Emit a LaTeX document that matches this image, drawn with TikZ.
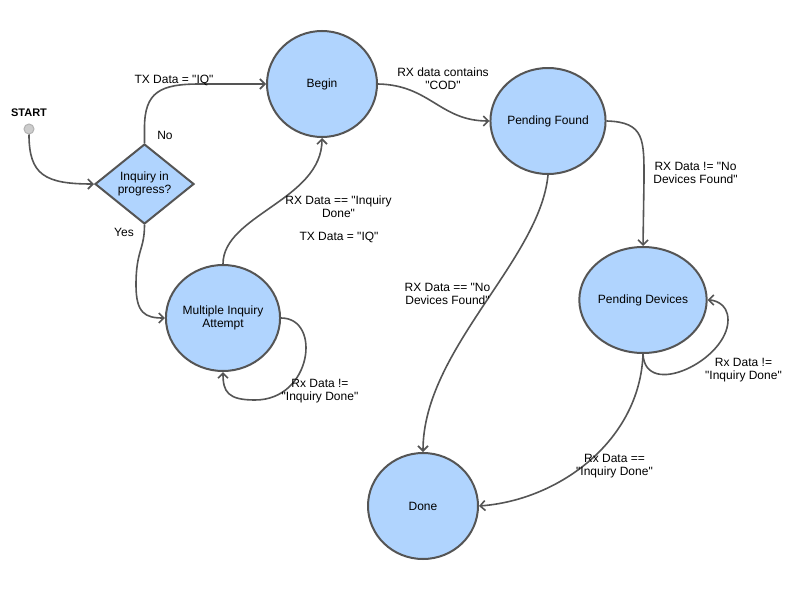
\documentclass[tikz,border=0pt]{standalone}
\usepackage{fontspec}
\setmainfont{Liberation Sans}[Ligatures=TeXOff]
\usetikzlibrary{shapes.geometric,arrows.meta}
\definecolor{fillc}{HTML}{B0D4FE}
\definecolor{strokec}{HTML}{555555}
\definecolor{edgec}{HTML}{555555}
\begin{document}
\begin{tikzpicture}[x=1pt,y=-1pt,
  state/.style={ellipse,draw=strokec,line width=2pt,fill=fillc,minimum width=110pt,minimum height=106pt,inner sep=0pt,align=center,font=\fontsize{12}{13}\selectfont},
  decision/.style={diamond,draw=strokec,line width=2pt,fill=fillc,minimum width=99pt,minimum height=80pt,inner sep=0pt,aspect=1.24,align=center,font=\fontsize{12}{13}\selectfont},
  lbl/.style={align=center,inner sep=0pt,font=\fontsize{12}{13}\selectfont},
  edge/.style={draw=edgec,line width=1.6pt,-{Straight Barb[length=5pt,width=10pt]}}]
\useasboundingbox (0,0) rectangle (806,589);
\fill[white] (0,0) rectangle (806,589);

% nodes
\node[circle,fill=black!20,draw=black!30,line width=1pt,minimum size=10pt,inner sep=0pt] (start) at (29,129) {};
\node[lbl,font=\bfseries\fontsize{11}{13}\selectfont] (startlbl) at (29,113) {START};
\node[decision] (dec) at (144.5,184) {Inquiry in\\progress?};
\node[state] (begin) at (322,84) {Begin};
\node[state] (pf) at (548,121) {Pending Found};
\node[state] (pd) at (643,300) {Pending Devices};
\node[state] (done) at (423,506) {Done};
\node[state] (mia) at (223,318) {Multiple Inquiry\\Attempt};

% edges
\draw[edge] (start.south) .. controls (29,175) and (45,184) .. (dec.west);
\draw[edge] (dec.north) -- (144.5,128) .. controls (144.5,92) and (160,84) .. (200,84) -- (begin.west);
\draw[edge] (dec.south) .. controls (144.5,250) and (136,250) .. (136,285) .. controls (136,313) and (145,318) .. (mia.west);
\draw[edge] (mia.north) .. controls (223,215) and (322,200) .. (begin.south);
\draw[edge] (mia.east) .. controls (322,318) and (312,400) .. (255,400) .. controls (228,400) and (223,392) .. (mia.south);
\draw[edge] (begin.east) .. controls (430,85) and (440,121) .. (pf.west);
\draw[edge] (pf.east) .. controls (645,122) and (644,140) .. (644,180) -- (pd.north);
\draw[edge] (pf.south) .. controls (540,260) and (423,350) .. (done.north);
\draw[edge] (pd.south) .. controls (645,400) and (728,360) .. (728,320) .. controls (728,302) and (712,300) .. (pd.east);
\draw[edge] (pd.south) .. controls (640,440) and (560,500) .. (done.east);

% labels
\node[lbl] (l1) at (174,80) {TX Data = "IQ"};
\node[lbl] (l2) at (165,135) {No};
\node[lbl] (l3) at (124,232) {Yes};
\node[lbl] (l4) at (338.5,206.5) {RX Data == "Inquiry\\Done"};
\node[lbl] (l5) at (339,237) {TX Data = "IQ"};
\node[lbl] (l6) at (320,391) {Rx Data !=\\"Inquiry Done"};
\node[lbl] (l7) at (443,79) {RX data contains\\"COD"};
\node[lbl] (l8) at (695.5,172.5) {RX Data != "No\\Devices Found"};
\node[lbl] (l9) at (447.5,293.5) {RX Data == "No\\Devices Found"};
\node[lbl] (l10) at (743.5,370.5) {Rx Data !=\\"Inquiry Done"};
\node[lbl] (l11) at (614.5,466) {Rx Data ==\\"Inquiry Done"};
\end{tikzpicture}
\end{document}
